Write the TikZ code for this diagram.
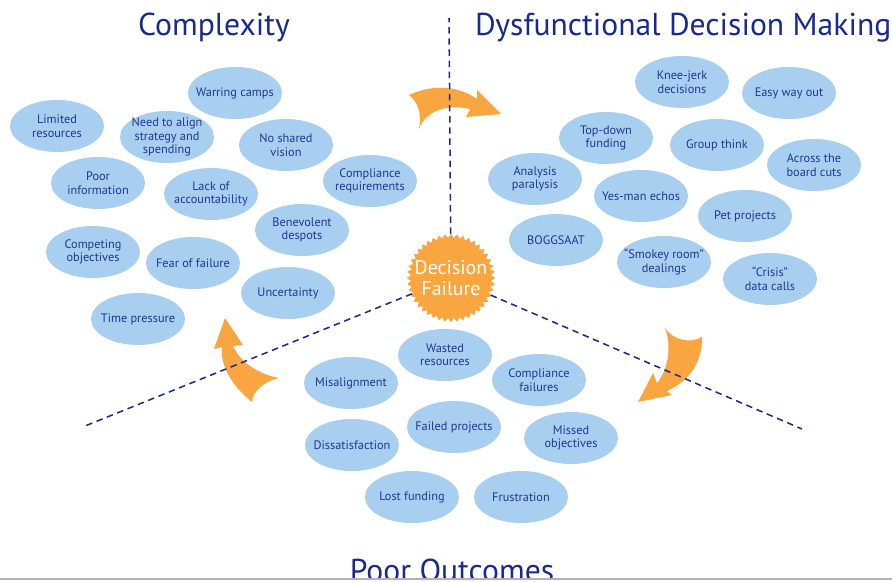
\documentclass[tikz,border=0pt]{standalone}
\usepackage{fontspec}
\setmainfont{PT Sans}
\usetikzlibrary{shapes.geometric}

\definecolor{bubble}{HTML}{A8CEF0}
\definecolor{ink}{HTML}{22368F}
\definecolor{navy}{HTML}{1A2A8C}
\definecolor{burst}{HTML}{F9A640}

\tikzset{
  issue/.style={ellipse, fill=bubble, minimum width=2.82cm, minimum height=1.56cm,
    inner xsep=-12pt, inner ysep=-4pt, text=ink, align=center, font=\fontsize{10.5}{11.5}\selectfont},
  heading/.style={text=navy, inner sep=0pt, font=\fontsize{27}{30}\selectfont},
  divider/.style={draw=navy, dash pattern=on 5.5pt off 4pt, line width=1.3pt},
  swoosh/.style={fill=burst, draw=none}
}

\begin{document}
\begin{tikzpicture}[x=0.03cm,y=-0.03cm]
  \useasboundingbox[fill=white] (0,0) rectangle (892,581);

  \node[heading,anchor=base] (t1) at (214,35) {Complexity};
  \node[heading,anchor=base west] (t2) at (475,35) {Dysfunctional Decision Making};
  \node[heading,anchor=base] (t3) at (452,581) {Poor Outcomes};

  \node[issue] (c1) at (57,126) {Limited\\resources};
  \node[issue] (c2) at (235,93) {Warring camps};
  \node[issue] (c3) at (167,137) {Need to align\\strategy and\\spending};
  \node[issue] (c4) at (286,145) {No shared\\vision};
  \node[issue] (c5) at (98,183) {Poor\\information};
  \node[issue] (c6) at (211,194) {Lack of\\accountability};
  \node[issue] (c7) at (370,181) {Compliance\\requirements};
  \node[issue] (c8) at (302,230) {Benevolent\\despots};
  \node[issue] (c9) at (93,252) {Competing\\objectives};
  \node[issue] (c10) at (193,263) {Fear of failure};
  \node[issue] (c11) at (288,293) {Uncertainty};
  \node[issue] (c12) at (138,319) {Time pressure};

  \node[issue] (d1) at (682,82) {Knee-jerk\\decisions};
  \node[issue] (d2) at (789,93) {Easy way out};
  \node[issue] (d3) at (606,138) {Top-down\\funding};
  \node[issue] (d4) at (717,145) {Group think};
  \node[issue] (d5) at (814,165) {Across the\\board cuts};
  \node[issue] (d6) at (535,179) {Analysis\\paralysis};
  \node[issue] (d7) at (641,196) {Yes-man echos};
  \node[issue] (d8) at (745,216) {Pet projects};
  \node[issue] (d9) at (556,240) {BOGGSAAT};
  \node[issue] (d10) at (664,262) {``Smokey room''\\dealings};
  \node[issue] (d11) at (770,279) {``Crisis''\\data calls};

  \node[issue] (p1) at (445,355) {Wasted\\resources};
  \node[issue] (p2) at (351,383) {Misalignment};
  \node[issue] (p3) at (539,380) {Compliance\\failures};
  \node[issue] (p4) at (454,427) {Failed projects};
  \node[issue] (p5) at (352,445) {Dissatisfaction};
  \node[issue] (p6) at (571,438) {Missed\\objectives};
  \node[issue] (p7) at (412,497) {Lost funding};
  \node[issue] (p8) at (521,497) {Frustration};

  \fill[swoosh] (409,95) .. controls (435,83) and (460,87) .. (477,99) -- (477,90)
    -- (501,114) -- (466,117) -- (470,109) .. controls (448,104) and (426,110) .. (419,129)
    .. controls (422,114) and (418,102) .. (409,95) -- cycle;
  \fill[swoosh] (225,318) -- (243,345) -- (233,346) .. controls (240,362) and (258,374) .. (279,378)
    .. controls (263,382) and (253,391) .. (252,402) .. controls (232,386) and (220,366) .. (222,347)
    -- (214,349) -- cycle;
  \fill[swoosh] (665,328) .. controls (673,340) and (690,344) .. (702,337)
    .. controls (703,360) and (690,381) .. (667,391) -- (672,395) -- (638,402) -- (653,373)
    -- (657,383) .. controls (668,370) and (672,346) .. (665,328) -- cycle;

  \node[star, star points=44, star point ratio=1.1, fill=burst, minimum size=2.65cm, inner sep=0pt] (df) at (451,278) {};
  \node[white, align=center, font=\fontsize{17}{18.5}\selectfont] (dft) at (df) {Decision\\Failure};

  \coordinate (top) at (449,18);
  \coordinate (left) at (85,426);
  \coordinate (right) at (802,429);
  \draw[divider] (df) -- (top);
  \draw[divider] (df) -- (left);
  \draw[divider] (df) -- (right);

  \fill[white] (0,579) rectangle (892,585);
  \draw[gray!60, line width=1pt] (0,579) -- (892,579);
\end{tikzpicture}
\end{document}
